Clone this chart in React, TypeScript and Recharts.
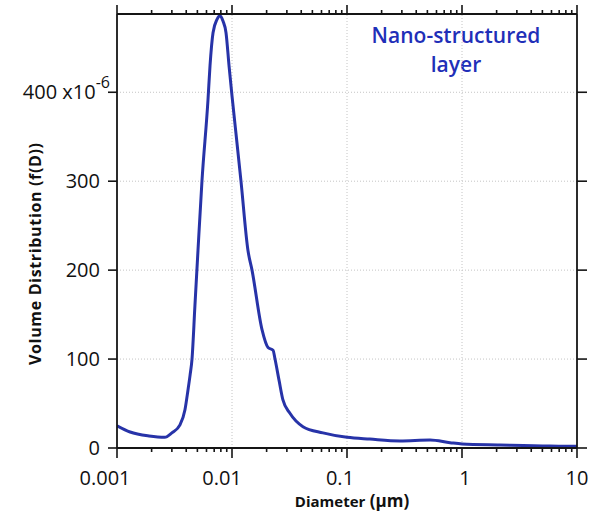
import React from "react";
import { LineChart, Line, XAxis, YAxis, ReferenceLine } from "recharts";

// particle diameter (µm) and volume distribution f(D) (x10^-6)
const diameterUm = [
  0.001, 0.0013, 0.0019, 0.0026, 0.003, 0.00353, 0.0039, 0.00414, 0.00432,
  0.00449, 0.00476, 0.00506, 0.00548, 0.00618, 0.00644, 0.00684, 0.00741,
  0.00787, 0.00835, 0.00887, 0.00942, 0.01, 0.0107, 0.01197, 0.01377, 0.01493,
  0.01824, 0.02056, 0.02275, 0.02366, 0.02566, 0.02773, 0.0319, 0.0414, 0.0618,
  0.1, 0.158, 0.289, 0.527, 0.787, 1, 2.14, 5.82, 10,
];
const volumeDist = [
  25, 18, 13.5, 12, 17, 26, 43, 65, 82, 100, 160, 222, 300, 391, 430, 467, 482,
  486, 480, 467, 430, 396, 360, 300, 222, 200, 133, 113, 110, 100, 76, 54, 39,
  24, 17, 12, 10, 8, 9, 6, 4.5, 3.4, 2.2, 2,
];

const xMajorTicks = [0.001, 0.01, 0.1, 1, 10];
const xTickLabels = ["0.001", "0.01", "0.1", "1", "10"];
const minorSteps = [2, 3, 4, 5, 6, 7, 8, 9];
const xGridValues = [0.01, 0.1, 1];
const yTicks = [0, 100, 200, 300, 400];
const yGridValues = [100, 200, 300, 400];

const data = diameterUm.map((d, i) => ({ d, v: volumeDist[i] }));
const xAllTicks = [
  ...xMajorTicks,
  ...xMajorTicks.slice(0, -1).flatMap((dec) => minorSteps.map((m) => dec * m)),
].sort((a, b) => a - b);

const AXIS = "#151515";
const FONT = "'Open Sans', sans-serif";
const BLUE = "#2733a8";
// the original's decade labels sit a little off their ticks
const labelNudge = [-12, -10, -7, 3, 0];

const isMajor = (v: number) =>
  Math.abs(Math.log10(v) - Math.round(Math.log10(v))) < 1e-6;

const BottomTick = (props: any) => {
  const { x, y, payload } = props;
  const major = isMajor(payload.value);
  const idx = xMajorTicks.findIndex(
    (t) => Math.abs(Math.log10(t) - Math.log10(payload.value)) < 1e-6
  );
  return (
    <g>
      <line x1={x} x2={x} y1={y} y2={y + (major ? 10 : 4)} stroke={AXIS} strokeWidth={1.6} />
      {major && (
        <text
          x={x + labelNudge[idx]}
          y={y + 37}
          textAnchor="middle"
          fontFamily={FONT}
          fontSize={20}
          fill="#111"
        >
          {xTickLabels[idx]}
        </text>
      )}
    </g>
  );
};

const TopTick = (props: any) => {
  const { x, y, payload } = props;
  const major = isMajor(payload.value);
  return <line x1={x} x2={x} y1={y} y2={y - (major ? 9 : 4)} stroke={AXIS} strokeWidth={1.6} />;
};

const LeftTick = (props: any) => {
  const { x, y, payload } = props;
  return (
    <g>
      <line x1={x - 9} x2={x} y1={y} y2={y} stroke={AXIS} strokeWidth={1.6} />
      {payload.value === 400 ? (
        <text x={x - 7} y={y + 7} textAnchor="end" fontFamily={FONT} fontSize={20} fill="#111">
          400 x10
          <tspan dy={-11} fontSize={16}>-6</tspan>
        </text>
      ) : (
        <text x={x - 17} y={y + 7} textAnchor="end" fontFamily={FONT} fontSize={20} fill="#111">
          {payload.value}
        </text>
      )}
    </g>
  );
};

const RightTick = (props: any) => {
  const { x, y } = props;
  return <line x1={x} x2={x + 10} y1={y} y2={y} stroke={AXIS} strokeWidth={1.6} />;
};

export default function App() {
  return (
    <div style={{ position: "absolute", left: 0, top: 0, background: "#fff" }}>
      <LineChart
        width={598}
        height={513}
        data={data}
        margin={{ top: 13, right: 20, bottom: 5, left: 57 }}
      >
        <XAxis
          dataKey="d"
          type="number"
          scale="log"
          domain={[0.001, 10]}
          allowDataOverflow
          ticks={xAllTicks}
          interval={0}
          tickSize={0}
          tickMargin={0}
          tickLine={false}
          tick={<BottomTick />}
          height={60}
          axisLine={{ stroke: AXIS, strokeWidth: 1.8 }}
        />
        <XAxis
          xAxisId="top"
          orientation="top"
          dataKey="d"
          type="number"
          scale="log"
          domain={[0.001, 10]}
          allowDataOverflow
          ticks={xAllTicks}
          interval={0}
          tickSize={0}
          tickMargin={0}
          tickLine={false}
          tick={<TopTick />}
          height={1}
          axisLine={{ stroke: AXIS, strokeWidth: 1.8 }}
        />
        <YAxis
          type="number"
          domain={[0, 488]}
          allowDataOverflow
          ticks={yTicks}
          interval={0}
          tickSize={0}
          tickMargin={0}
          tickLine={false}
          tick={<LeftTick />}
          width={60}
          axisLine={{ stroke: AXIS, strokeWidth: 1.8 }}
        />
        <YAxis
          yAxisId="r"
          orientation="right"
          type="number"
          domain={[0, 488]}
          allowDataOverflow
          ticks={yTicks}
          interval={0}
          tickSize={0}
          tickMargin={0}
          tickLine={false}
          tick={<RightTick />}
          width={1}
          axisLine={{ stroke: AXIS, strokeWidth: 1.8 }}
        />
        {xGridValues.map((v) => (
          <ReferenceLine key={"x" + v} x={v} stroke="#c4c4c4" strokeDasharray="1 2" />
        ))}
        {yGridValues.map((v) => (
          <ReferenceLine key={"y" + v} y={v} stroke="#c4c4c4" strokeDasharray="1 2" />
        ))}
        <Line
          dataKey="v"
          type="monotone"
          stroke={BLUE}
          strokeWidth={3}
          dot={false}
          isAnimationActive={false}
        />
        <text x={456} y={43} textAnchor="middle" fontFamily={FONT} fontWeight={600} fontSize={21} fill="#1f2fb8">
          Nano-structured
        </text>
        <text x={456} y={72} textAnchor="middle" fontFamily={FONT} fontWeight={600} fontSize={21} fill="#1f2fb8">
          layer
        </text>
        <text x={352} y={507} textAnchor="middle" fontFamily={FONT} fontWeight={700} fontSize={15} fill="#111">
          Diameter
          <tspan fontSize={17}> (µm)</tspan>
        </text>
        <text
          x={41}
          y={254}
          textAnchor="middle"
          fontFamily={FONT}
          fontWeight={700}
          fontSize={16}
          fill="#111"
          textLength={222}
          lengthAdjust="spacing"
          transform="rotate(-90 41 254)"
        >
          Volume Distribution (f(D))
        </text>
      </LineChart>
    </div>
  );
}
